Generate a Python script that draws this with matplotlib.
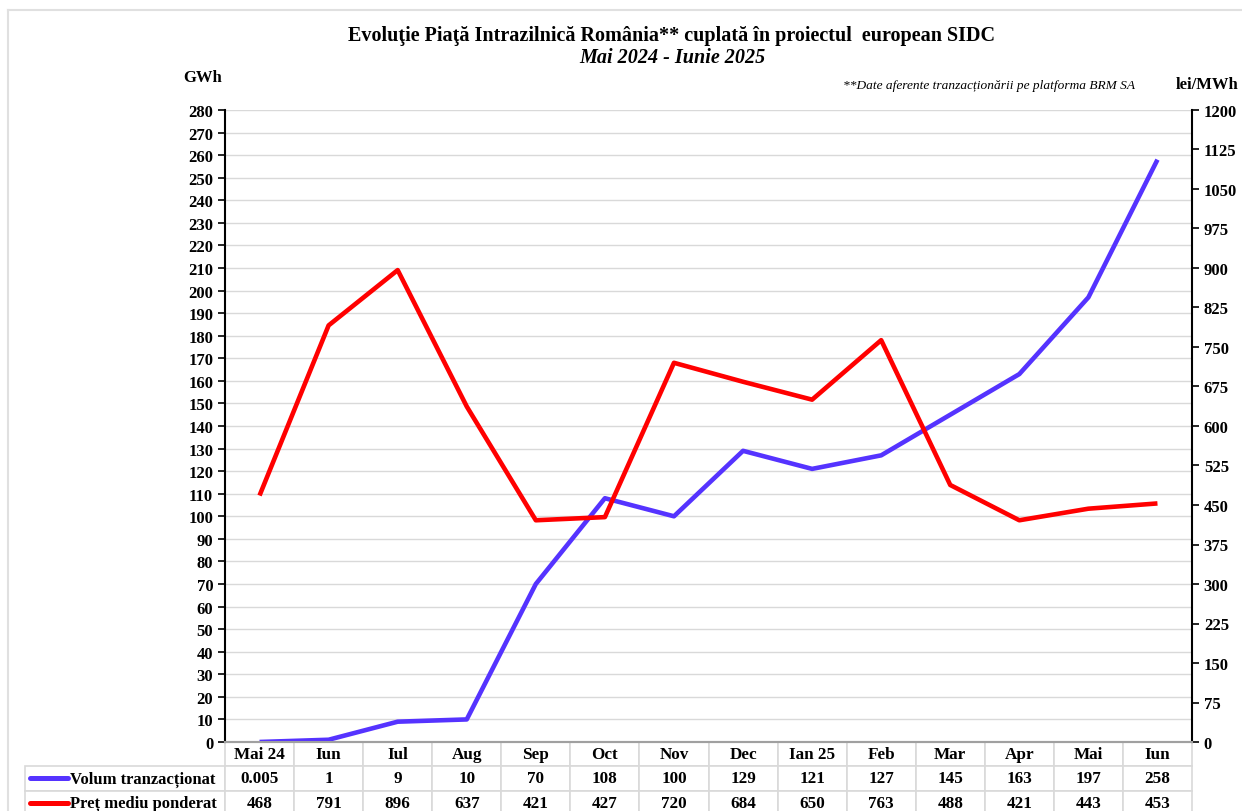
import matplotlib.pyplot as plt
from matplotlib.lines import Line2D

plt.rcParams["font.family"] = ["Liberation Serif", "DejaVu Serif"]
plt.rcParams["font.weight"] = "bold"

months = ["Mai 24", "Iun", "Iul", "Aug", "Sep", "Oct", "Nov", "Dec",
          "Ian 25", "Feb", "Mar", "Apr", "Mai", "Iun"]
volum = [0.005, 1, 9, 10, 70, 108, 100, 129, 121, 127, 145, 163, 197, 258]
pret = [468, 791, 896, 637, 421, 427, 720, 684, 650, 763, 488, 421, 443, 453]
volum_txt = ["0.005", "1", "9", "10", "70", "108", "100", "129", "121",
             "127", "145", "163", "197", "258"]
pret_txt = [str(v) for v in pret]

BLUE = "#5533ff"
RED = "#ff0000"
GRID = "#d9d9d9"

W, H = 1242, 812
fig = plt.figure(figsize=(W / 100, H / 100), dpi=100)
L, R, T, B = 225, 1192, 111, 743
ax = fig.add_axes([L / W, 1 - B / H, (R - L) / W, (B - T) / H])
ax2 = ax.twinx()

x = list(range(len(months)))
ax.plot(x, volum, color=BLUE, lw=3.3, solid_capstyle="butt", zorder=3)
ax2.plot(x, pret, color=RED, lw=3.3, solid_capstyle="butt", zorder=3)

ax.set_xlim(-0.5, len(months) - 0.5)
ax.set_ylim(0, 280)
ax2.set_ylim(0, 1200)
ax.set_yticks(range(0, 281, 10))
ax2.set_yticks(range(0, 1201, 75))
ax.set_xticks([])
ax.grid(axis="y", color=GRID, lw=1)
ax.set_axisbelow(True)

for a in (ax, ax2):
    a.tick_params(axis="y", labelsize=12, length=5, width=1.2, direction="out")
    for lab in a.get_yticklabels():
        lab.set_fontweight("bold")
    a.spines["top"].set_visible(False)
    a.spines["bottom"].set_color("#a0a0a0")
    a.spines["bottom"].set_linewidth(1.5)
    a.spines["left"].set_linewidth(1.5)
    a.spines["right"].set_linewidth(1.5)
ax.spines["right"].set_visible(False)
ax2.spines["left"].set_visible(False)

# data table below the plot
pw = R - L
ph = B - T
lab_w = 200 / pw
col_w = 1 / len(months)
row_h = 24.3 / ph
cells = [[""] + months, [""] + volum_txt, [""] + pret_txt]
tab = ax.table(cellText=cells, colWidths=[lab_w] + [col_w] * len(months),
               cellLoc="center", bbox=[-lab_w, -3 * row_h, 1 + lab_w, 3 * row_h])
tab.auto_set_font_size(False)
tab.set_fontsize(12.3)
for (r, c), cell in tab.get_celld().items():
    cell.set_edgecolor(GRID)
    cell.set_linewidth(1.2)
    cell.get_text().set_fontweight("bold")
    if r == 0 and c == 0:
        cell.set_visible(False)

# legend samples in the label column
for i, (lbl, col) in enumerate([("Volum tranzacționat", BLUE),
                                ("Preț mediu ponderat", RED)]):
    yy = -(1.5 + i) * row_h
    ax.add_line(Line2D([-195 / pw, -157 / pw], [yy, yy], color=col, lw=3.6,
                       transform=ax.transAxes, clip_on=False,
                       solid_capstyle="round"))
    ax.text(-155 / pw, yy, lbl, transform=ax.transAxes, ha="left", va="center",
            fontsize=12, fontweight="bold")

fig.text(672 / W, 1 - 36 / H,
         "Evoluţie Piaţă Intrazilnică România** cuplată în proiectul  european SIDC",
         ha="center", va="center", fontsize=14.5, fontweight="bold")
fig.text(672 / W, 1 - 58 / H, "Mai 2024 - Iunie 2025", ha="center", va="center",
         fontsize=14.5, fontweight="bold", style="italic")
fig.text(203 / W, 1 - 78 / H, "GWh", ha="center", va="center",
         fontsize=12, fontweight="bold")
fig.text(1207 / W, 1 - 85 / H, "lei/MWh", ha="center", va="center",
         fontsize=12, fontweight="bold")
fig.text(1135 / W, 1 - 86 / H,
         "**Date aferente tranzacționării pe platforma BRM SA",
         ha="right", va="center", fontsize=9.6, fontweight="normal", style="italic")

# light frame of the chart area
fig.add_artist(Line2D([8 / W, 8 / W], [0, 1 - 11 / H], color="#e0e0e0", lw=1.5,
                      transform=fig.transFigure))
fig.add_artist(Line2D([8 / W, 1], [1 - 11 / H, 1 - 11 / H], color="#e0e0e0",
                      lw=1.5, transform=fig.transFigure))

fig.savefig("out.png", dpi=100)
